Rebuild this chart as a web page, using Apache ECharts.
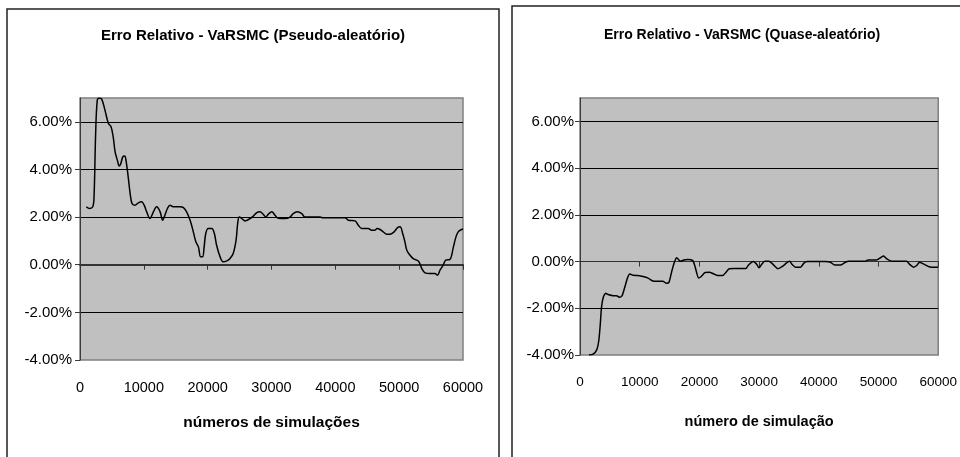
<!DOCTYPE html>
<html>
<head>
<meta charset="utf-8">
<script src="https://cdn.jsdelivr.net/npm/echarts@6/dist/echarts.min.js"></script>
<style>
  html, body { margin: 0; padding: 0; background: #ffffff; }
  #chart { width: 960px; height: 457px; }
</style>
</head>
<body>
<div id="chart"></div>
<script>
// Pseudo-random Monte Carlo VaR: relative error (%) by number of simulations
const pseudoSims = [1000,1500,2000,2200,2450,2700,3000,3400,3900,4450,4850,5200,5500,5850,6150,6400,6700,7000,7200,7550,7850,8150,8600,9150,9650,10050,10450,10950,11500,12000,12550,12950,13300,13700,14100,14600,15650,16200,16700,17250,17750,18150,18550,18900,19200,19450,19700,20100,20650,21050,21400,21950,22450,23000,23500,24000,24450,24700,24950,25350,25850,26650,27150,27700,28200,28700,29100,29500,30050,30550,31050,32100,32900,33400,34050,34750,35250,37600,38100,41500,42050,43100,43600,44150,45150,45700,46200,46550,47000,47500,48050,48550,49200,49750,50150,50550,50900,51200,51700,52200,52750,53100,53550,54050,54850,55600,56000,56400,56900,57300,57950,58500,58900,59250,59800,60000];
const pseudoErr = [2.43,2.36,2.43,2.85,5.5,6.9,7.0,6.95,6.5,5.93,5.8,5.37,4.74,4.39,4.14,4.25,4.53,4.56,4.39,3.69,3.0,2.57,2.5,2.6,2.64,2.5,2.22,1.94,2.22,2.43,2.22,1.87,2.08,2.36,2.5,2.43,2.43,2.4,2.22,1.87,1.38,0.96,0.75,0.33,0.33,0.75,1.31,1.52,1.52,1.31,0.82,0.33,0.12,0.16,0.26,0.47,1.03,1.73,2.0,1.94,1.84,1.94,2.04,2.19,2.22,2.12,2.0,2.12,2.22,2.08,1.95,1.94,2.0,2.15,2.22,2.15,2.0,2.0,1.97,1.97,1.87,1.84,1.66,1.52,1.52,1.45,1.45,1.52,1.48,1.38,1.28,1.28,1.38,1.56,1.59,1.31,0.96,0.61,0.4,0.26,0.19,0.12,-0.16,-0.34,-0.37,-0.37,-0.44,-0.23,-0.02,0.19,0.22,0.75,1.17,1.38,1.48,1.5];

// Quasi-random Monte Carlo VaR: relative error (%) by number of simulations
const quasiSims = [1500,2200,2800,3150,3400,3600,3900,4300,4700,5550,6100,6650,7050,7500,7950,8350,8900,9700,10550,11400,12200,13050,13900,14450,14900,15400,15850,16200,16850,17400,18050,18900,19300,19850,20300,20950,21650,22400,23050,23900,24450,25000,25850,27800,28150,29000,29550,30000,30400,30950,31650,32450,33150,33900,34600,35100,35550,36100,36950,37500,38050,41100,41950,42650,43600,44450,45000,47750,48250,49700,50300,50850,51400,52200,54700,55250,55850,56400,56850,57500,58350,58900,60000];
const quasiErr = [-4.0,-3.96,-3.78,-3.38,-2.67,-1.96,-1.53,-1.36,-1.41,-1.46,-1.46,-1.53,-1.46,-1.1,-0.7,-0.53,-0.59,-0.6,-0.64,-0.71,-0.83,-0.84,-0.84,-0.93,-0.89,-0.39,0.0,0.16,0.01,0.07,0.09,0.04,-0.24,-0.7,-0.64,-0.47,-0.46,-0.53,-0.6,-0.6,-0.46,-0.31,-0.3,-0.3,-0.17,0.0,-0.1,-0.27,-0.13,0.01,0.01,-0.15,-0.31,-0.21,-0.06,0.01,-0.13,-0.24,-0.24,-0.07,0.0,0.0,-0.03,-0.15,-0.15,-0.03,0.01,0.01,0.07,0.07,0.16,0.24,0.11,0.01,0.01,-0.13,-0.24,-0.17,-0.03,-0.1,-0.21,-0.24,-0.24];

// Axis settings
const simMin = 0, simMax = 60000, simStep = 10000;
const errMin = -4, errMax = 7, errStep = 2;

const titles = ['Erro Relativo - VaRSMC (Pseudo-aleatório)', 'Erro Relativo - VaRSMC (Quase-aleatório)'];
const xNames = ['números de simulações', 'número de simulação'];

const FONT = '"Liberation Sans", Arial, sans-serif';
const pct = v => v.toFixed(2) + '%';
const plain = v => String(v);
const pairs = (xs, ys) => xs.map((x, i) => [x, ys[i]]);

function yAxisFor(grid, labelMargin) {
  return {
    type: 'value', gridIndex: grid,
    min: errMin, max: errMax, interval: errStep,
    axisLine: { show: true, lineStyle: { color: '#3a3a3a', width: 1 } },
    axisTick: { show: true, inside: false, length: 5, lineStyle: { color: '#3a3a3a' } },
    axisLabel: {
      showMaxLabel: false, margin: labelMargin, formatter: pct,
      color: '#000', fontFamily: FONT, fontSize: 15
    },
    splitLine: { show: true, showMinLine: false, showMaxLine: false, lineStyle: { color: '#000', width: 1 } }
  };
}

function xLabelAxis(grid, name, labelSize, nameSize, nameGap) {
  return {
    type: 'value', gridIndex: grid, position: 'bottom',
    min: simMin, max: simMax, interval: simStep,
    axisLine: { show: false, onZero: false },
    axisTick: { show: false },
    splitLine: { show: false },
    axisLabel: { margin: 20, formatter: plain, color: '#000', fontFamily: FONT, fontSize: labelSize },
    name: name, nameLocation: 'middle', nameGap: nameGap,
    nameTextStyle: { color: '#000', fontFamily: FONT, fontSize: nameSize, fontWeight: 'bold' }
  };
}

function xZeroAxis(grid, width) {
  return {
    type: 'value', gridIndex: grid, position: 'bottom',
    min: simMin, max: simMax, interval: simStep,
    axisLine: { show: true, onZero: true, lineStyle: { color: '#333', width: width } },
    axisTick: { show: true, inside: false, length: 5, lineStyle: { color: '#333', width: 1 } },
    axisLabel: { show: false },
    splitLine: { show: false }
  };
}

const chart = echarts.init(document.getElementById('chart'), null, { renderer: 'canvas' });
chart.setOption({
  backgroundColor: '#ffffff',
  animation: false,
  title: [
    { text: titles[0], left: 248, top: 23, textAlign: 'center',
      textStyle: { fontFamily: FONT, fontSize: 15, fontWeight: 'bold', color: '#000' } },
    { text: titles[1], left: 737, top: 23, textAlign: 'center',
      textStyle: { fontFamily: FONT, fontSize: 14, fontWeight: 'bold', color: '#000' } }
  ],
  graphic: [
    { type: 'rect', silent: true, z: -10,
      shape: { x: 7, y: 9, width: 492, height: 470 },
      style: { fill: null, stroke: '#222', lineWidth: 1.5 } },
    { type: 'rect', silent: true, z: -10,
      shape: { x: 512, y: 6, width: 470, height: 470 },
      style: { fill: null, stroke: '#222', lineWidth: 1.5 } }
  ],
  grid: [
    { left: 80, top: 98, width: 383, height: 262, show: true,
      backgroundColor: '#c0c0c0', borderColor: '#808080', borderWidth: 1.5 },
    { left: 580, top: 98, width: 360, height: 257, show: true,
      backgroundColor: '#c0c0c0', borderColor: '#808080', borderWidth: 1.5 }
  ],
  xAxis: [
    xLabelAxis(0, xNames[0], 14.5, 15.5, 55),
    xZeroAxis(0, 2),
    xLabelAxis(1, xNames[1], 13.5, 14.5, 59),
    xZeroAxis(1, 1)
  ],
  yAxis: [ yAxisFor(0, 8), yAxisFor(1, 6) ],
  series: [
    { type: 'line', xAxisIndex: 0, yAxisIndex: 0, data: pairs(pseudoSims, pseudoErr),
      smooth: 0.35, showSymbol: false, lineStyle: { color: '#000', width: 1.5 } },
    { type: 'line', xAxisIndex: 2, yAxisIndex: 1, data: pairs(quasiSims, quasiErr),
      smooth: 0.2, showSymbol: false, lineStyle: { color: '#000', width: 1.5 } }
  ]
});
</script>
</body>
</html>
